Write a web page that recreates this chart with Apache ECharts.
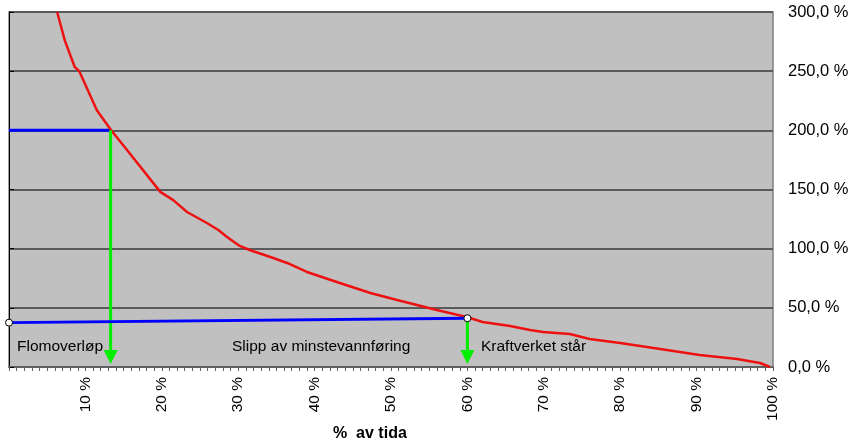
<!DOCTYPE html>
<html>
<head>
<meta charset="utf-8">
<script src="https://cdn.jsdelivr.net/npm/echarts@6/dist/echarts.min.js"></script>
<style>html,body{margin:0;padding:0;background:#fff}#c{width:856px;height:448px}</style>
</head>
<body>
<div id="c"></div>
<script>
// Duration curve (% of time, % of mean flow)
const timePct = [6.3, 7.3, 8.6, 9.2, 11.5, 13.35, 15.5, 19.8, 21.5, 23.3, 25.9, 27.4, 28.5, 30.2, 31.5, 34.6, 36.4, 39.0, 43.3, 47.3, 50.8, 56.0, 59.9, 62.0, 65.6, 68.2, 69.9, 73.4, 76.0, 80.0, 86.1, 90.4, 95.3, 98.3, 99.6];
const flowPct = [300, 276, 253.5, 250, 217, 200.3, 183, 148, 141, 131, 121.7, 115.8, 110, 102.3, 98.9, 92.1, 87.9, 80.3, 71.0, 62.5, 56.6, 48.2, 42.3, 38.0, 34.6, 31.3, 29.6, 27.9, 23.7, 20.3, 14.4, 10.1, 6.8, 3.4, 0];
// Flood threshold line (blue)
const floodX = [0, 13.3];
const floodY = [200, 200];
// Minimum release line (blue)
const minX = [0, 60];
const minY = [37.5, 41.2];
// Arrows (x position, start value)
const arrowX = [13.3, 60];
const arrowStart = [200, 41.2];
const xTicks = [10, 20, 30, 40, 50, 60, 70, 80, 90, 100];
const yTicks = [0, 50, 100, 150, 200, 250, 300];
const notes = ['Flomoverløp', 'Slipp av minstevannføring', 'Kraftverket står'];
const xTitle = '%  av tida';

const chart = echarts.init(document.getElementById('c'));
const font = '"Liberation Sans", Arial, sans-serif';
chart.setOption({
  animation: false,
  grid: { left: 9, right: 83, top: 12, bottom: 81, show: true, backgroundColor: '#c0c0c0', borderColor: '#808080', borderWidth: 1.5 },
  xAxis: {
    type: 'value', min: 0, max: 100, interval: 10,
    axisLine: { show: true, onZero: false, lineStyle: { color: '#606060', width: 2 } },
    axisTick: { show: true, length: 4, lineStyle: { color: '#606060' } },
    minorTick: { show: true, splitNumber: 10, length: 4, lineStyle: { color: '#606060' } },
    splitLine: { show: false },
    axisLabel: { rotate: 90, fontSize: 15.5, color: '#000', fontFamily: font, margin: 10,
      formatter: v => xTicks.indexOf(v) >= 0 ? v + ' %' : '' }
  },
  yAxis: {
    type: 'value', position: 'right', min: 0, max: 300, interval: 50,
    axisLine: { show: true, lineStyle: { color: '#000', width: 1 } },
    axisTick: { show: true, length: 5, lineStyle: { color: '#000' } },
    splitLine: { show: true, lineStyle: { color: '#5a5a5a', width: 2 } },
    axisLabel: { fontSize: 16.5, color: '#000', fontFamily: font, margin: 15,
      formatter: v => yTicks.indexOf(v) >= 0 ? v.toFixed(1).replace('.', ',') + ' %' : '' }
  },
  graphic: [
    { type: 'text', left: 17, top: 339, style: { text: notes[0], font: '15.5px ' + font, fill: '#000' } },
    { type: 'text', left: 232, top: 339, style: { text: notes[1], font: '15.5px ' + font, fill: '#000' } },
    { type: 'text', left: 481, top: 339, style: { text: notes[2], font: '15.5px ' + font, fill: '#000' } },
    { type: 'text', left: 333, top: 426, style: { text: xTitle, font: 'bold 16px ' + font, fill: '#000' } }
  ],
  series: [
    {
      type: 'line', data: timePct.map((x, i) => [x, flowPct[i]]), showSymbol: false,
      lineStyle: { color: '#ee1111', width: 2.5 }, clip: true, z: 3
    },
    {
      type: 'line', data: floodX.map((x, i) => [x, floodY[i]]), showSymbol: false,
      lineStyle: { color: '#0000ff', width: 3 }, z: 2
    },
    {
      type: 'line', data: minX.map((x, i) => [x, minY[i]]), symbol: 'circle', symbolSize: 7, showSymbol: true,
      itemStyle: { color: '#fff', borderColor: '#000', borderWidth: 1 },
      lineStyle: { color: '#0000ff', width: 3 }, z: 5
    },
    {
      type: 'custom', z: 4,
      data: arrowX.map((x, i) => [x, arrowStart[i]]),
      renderItem: (params, api) => {
        const top = api.coord([api.value(0), api.value(1)]);
        const bot = api.coord([api.value(0), 0]);
        const tipY = bot[1] - 3;
        const headH = 14, headW = 7;
        return {
          type: 'group', children: [
            { type: 'line', shape: { x1: top[0], y1: top[1], x2: top[0], y2: tipY - headH + 1 }, style: { stroke: '#00ee00', lineWidth: 3 } },
            { type: 'polygon', shape: { points: [[top[0] - headW, tipY - headH], [top[0] + headW, tipY - headH], [top[0], tipY]] }, style: { fill: '#00ee00' } }
          ]
        };
      }
    }
  ]
});
</script>
</body>
</html>
